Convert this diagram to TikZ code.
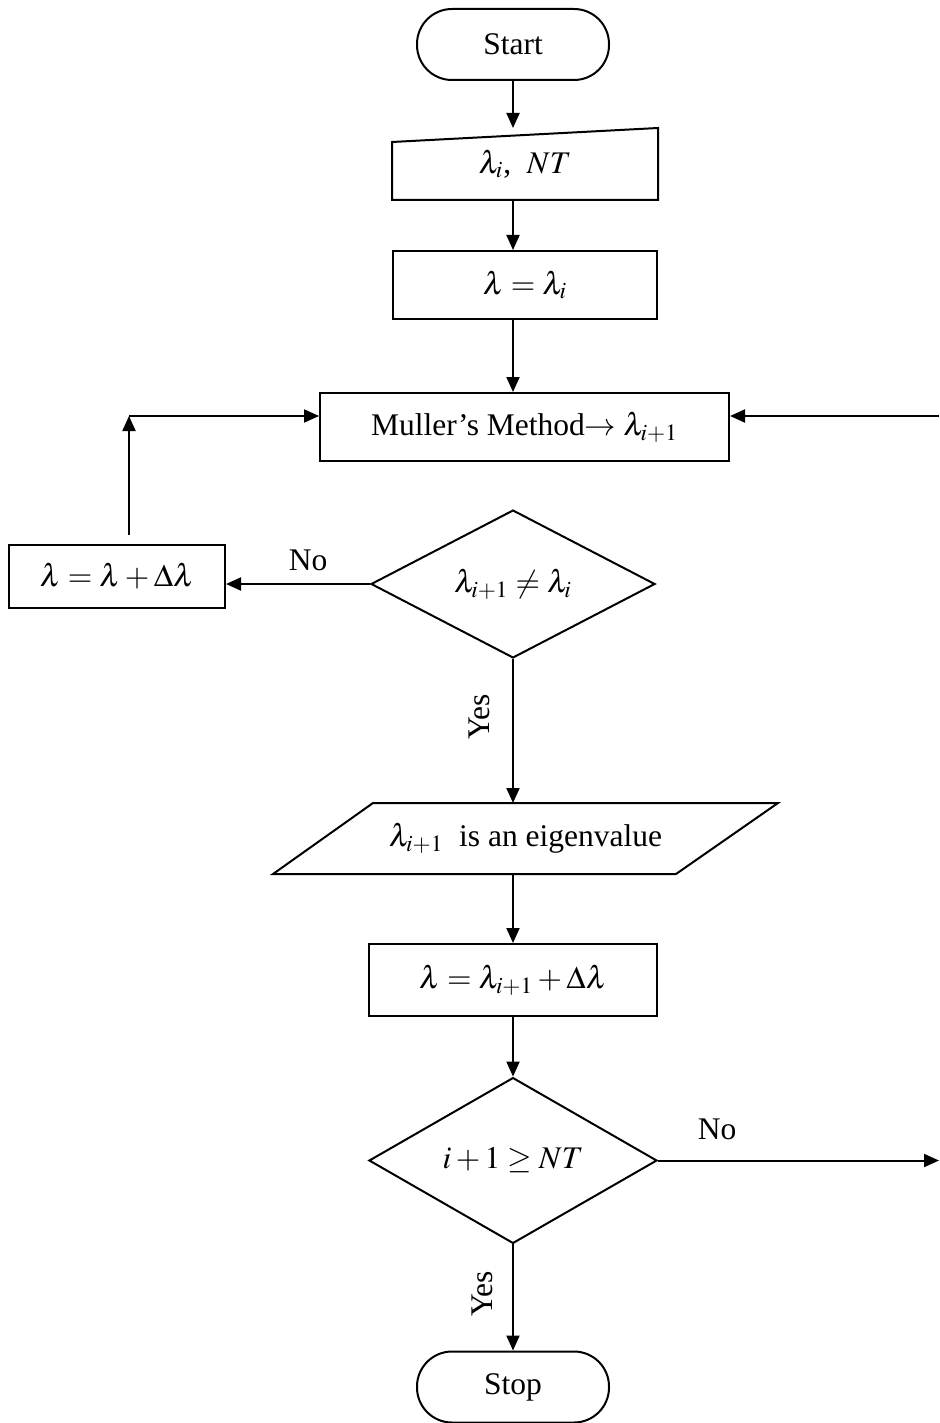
\documentclass[tikz,border=0pt]{standalone}
\usepackage{mathptmx}
\usepackage[no-math]{fontspec}
\setmainfont{Liberation Serif}
\usepackage{tikz}
\usetikzlibrary{arrows.meta,calc,shapes.geometric}

\begin{document}
\begin{tikzpicture}[x=0.5pt,y=-0.5pt,line width=1pt,
  font=\fontsize{15.75}{19}\selectfont,
  box/.style={draw,rectangle,inner sep=0pt},
  term/.style={draw,rectangle,rounded corners=17.5pt,minimum width=96pt,minimum height=35.5pt},
  dec/.style={draw,diamond,inner sep=0pt},
  arr/.style={-{Triangle[length=7.5pt,width=6.5pt]}}]
\useasboundingbox (0,0) rectangle (939,1423);
\coordinate (col) at (513,0);
\coordinate (loop) at (129,416);
\coordinate (rin) at (939,416);
\coordinate (rout) at (939,1160.5);
\node[term] (start) at (513,44.5) {Start};
\node[inner sep=0pt,minimum width=132pt,minimum height=35pt] (inp) at (525,164) {$\lambda_i$, \ $NT$};
\draw (inp.south west) -- (inp.south east) -- (inp.north east) -- ($(inp.north west)+(0,14)$) -- cycle;
\node[box,minimum width=132pt,minimum height=34pt] (lam) at (525,285) {$\lambda=\lambda_i$};
\node[box,minimum width=204.5pt,minimum height=34pt] (mul) at (524.5,427) {Muller's Method$\rightarrow\lambda_{i+1}$};
\node[box,minimum width=108pt,minimum height=31.5pt] (lft) at (117,576.5) {$\lambda=\lambda+\Delta\lambda$};
\node[dec,minimum width=142pt,minimum height=71pt] (chk) at (513,584) {$\lambda_{i+1}\neq\lambda_i$};
\node[inner sep=0pt,minimum width=251.5pt,minimum height=34.5pt] (eig) at (525.5,838.5) {$\lambda_{i+1}$\ \ is an eigenvalue};
\draw (eig.south west) -- ($(eig.south east)+(-102,0)$) -- (eig.north east) -- ($(eig.north west)+(100,0)$) -- cycle;
\node[box,minimum width=144pt,minimum height=36pt] (upd) at (513,980) {$\lambda=\lambda_{i+1}+\Delta\lambda$};
\node[dec,minimum width=144pt,minimum height=71.5pt] (cnt) at (513,1160.5) {$i+1\geq NT$};
\node[term] (stop) at (513,1387) {Stop};
\draw[arr] (start.south) -- (inp.north -| col);
\draw[arr] (inp.south -| col) -- (lam.north -| col);
\draw[arr] (lam.south -| col) -- (mul.north -| col);
\draw[arr] ([yshift=4.5pt]loop |- lft.north) -- (loop);
\draw[arr] (loop) -- (loop -| mul.west);
\draw[arr] (rin) -- (rin -| mul.east);
\draw[arr] (chk.west) -- (chk.west -| lft.east) node[pos=0.43,above=2.75pt] {No};
\draw[arr] (chk.south) -- (eig.north -| col);
\node[rotate=90] at (479,717) {Yes};
\draw[arr] (eig.south -| col) -- (upd.north);
\draw[arr] (upd.south) -- (cnt.north);
\draw[arr] (cnt.east) -- (rout) node[pos=0.21,above=6.5pt] {No};
\draw[arr] (cnt.south) -- (stop.north);
\node[rotate=90] at (482,1294) {Yes};
\end{tikzpicture}
\end{document}
